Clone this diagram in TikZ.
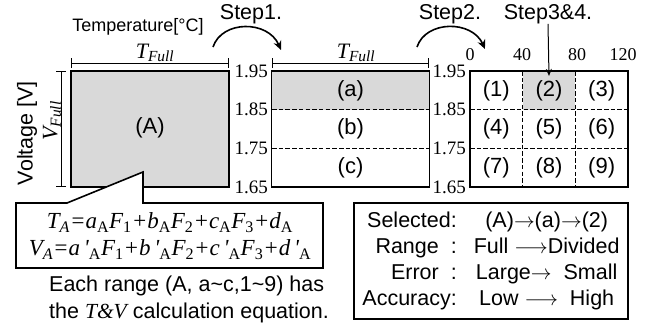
\documentclass[tikz,border=0pt]{standalone}
\usepackage{fontspec}
\setmainfont{Liberation Sans}
\newfontfamily\tnr{Liberation Serif}
\usetikzlibrary{arrows.meta, positioning}

\newcommand{\ital}[1]{{\tnr\itshape #1}}

\begin{document}
\begin{tikzpicture}[x=1pt, y=-1pt,
    rangebox/.style={draw, line width=1.6pt, minimum width=158pt, minimum height=116pt, inner sep=0pt},
    cutline/.style={line width=1.5pt, dash pattern=on 4.5pt off 2.2pt},
    lbl/.style={font=\fontsize{22}{24}\selectfont, inner sep=0pt},
    volt/.style={font=\tnr\fontsize{19}{20}\selectfont, anchor=east, inner sep=0pt},
    temp/.style={font=\tnr\fontsize{18}{20}\selectfont, inner sep=0pt},
    spanbar/.style={line width=0.9pt, {Bar[width=10pt]}-{Bar[width=10pt]}},
    steptext/.style={font=\fontsize{21.5}{24}\selectfont, inner sep=0pt},
    steparrow/.style={-{Stealth[length=9pt,width=8pt]}, line width=1.6pt}
]
\useasboundingbox (0,0) rectangle (662,327);

% Shaded ranges
\fill[gray!30] (272,71) rectangle (429,109.67);
\fill[gray!30] (522.67,71) rectangle (575.33,109.67);

% Full range (A)
\node[rangebox, fill=gray!30] (full) at (150,129) {};
\node[lbl] (labA) at (150,128) {(A)};
\draw[spanbar] (71,63) -- (229,63);
\node[anchor=south, inner sep=0pt] (tfullA) at (155,62) {\ital{\fontsize{22}{24}\selectfont T\textsubscript{Full}}};
\draw[spanbar] (61,71) -- (61,187);
\node[rotate=90, inner sep=0pt] (vfull) at (52,121) {\ital{\fontsize{22}{24}\selectfont V\textsubscript{Full}}};
\node[rotate=90, font=\fontsize{21.5}{24}\selectfont, inner sep=0pt] (vaxis) at (27,133) {Voltage [V]};
\node[font=\fontsize{18}{20}\selectfont, inner sep=0pt] (taxis) at (138,27) {Temperature[°C]};

% Step 1: voltage split
\node[rangebox] (part) at (350.5,129) {};
\draw[cutline] (272,109.67) -- (429,109.67);
\draw[cutline] (272,148.33) -- (429,148.33);
\foreach \t [count=\i] in {a,b,c}
  \node[lbl] (lab\t) at (350.5,71+38.67*\i-19.33) {(\t)};
\draw[spanbar] (272,63) -- (429,63);
\node[anchor=south, inner sep=0pt] (tfullB) at (356,62) {\ital{\fontsize{22}{24}\selectfont T\textsubscript{Full}}};

% Step 2: temperature split
\node[rangebox] (grid) at (549,129) {};
\draw[cutline] (470,109.67) -- (628,109.67);
\draw[cutline] (470,148.33) -- (628,148.33);
\draw[cutline] (522.67,71) -- (522.67,187);
\draw[cutline] (575.33,71) -- (575.33,187);
\foreach \r in {0,1,2}
  \foreach \c in {0,1,2} {
    \pgfmathtruncatemacro{\n}{3*\r+\c+1}
    \node[lbl] (cell\n) at (470+52.67*\c+26.33, 71+38.67*\r+19.33) {(\n)};
  }
\foreach \x/\t in {470/0, 522/40, 577/80, 623/120}
  \node[temp] (temp\t) at (\x,55) {\t};

% Voltage scales
\foreach \v [count=\i] in {1.95,1.85,1.75,1.65} {
  \pgfmathsetmacro{\yy}{71+38.67*(\i-1)}
  \node[volt] (vA\i) at (268,\yy) {\v};
  \node[volt] (vB\i) at (466,\yy) {\v};
}

% Steps
\node[steptext] (stepone) at (251,14) {Step1.};
\node[steptext] (steptwo) at (450,14) {Step2.};
\node[steptext] (stepthree) at (548,14) {Step3\&4.};
\coordinate (s1a) at (213,47);
\coordinate (s1b) at (281,50);
\coordinate (s2a) at (417,47);
\coordinate (s2b) at (485,49);
\draw[steparrow] (s1a) .. controls (222,20) and (268,20) .. (s1b);
\draw[steparrow] (s2a) .. controls (426,20) and (472,20) .. (s2b);
\draw[-{Stealth[length=7pt,width=6pt]}, line width=1pt] (stepthree.south) -- ([yshift=4pt]cell2.north);

% Equation callout
\draw[line width=1.6pt, fill=white] (16,203) -- (67,203) -- (143,172) -- (143,203)
  -- (323,203) -- (323,268) -- (16,268) -- cycle;
\node[font=\tnr\itshape\fontsize{23}{27}\selectfont, align=center, inner sep=0pt] (eqn) at (170,236)
  {T\textsubscript{A}=a\textsubscript{\upshape A}F\textsubscript{\upshape 1}+b\textsubscript{\upshape A}F\textsubscript{\upshape 2}+c\textsubscript{\upshape A}F\textsubscript{\upshape 3}+d\textsubscript{\upshape A}\\
   V\textsubscript{A}=a\,'\textsubscript{\upshape A}F\textsubscript{\upshape 1}+b\,'\textsubscript{\upshape A}F\textsubscript{\upshape 2}+c\,'\textsubscript{\upshape A}F\textsubscript{\upshape 3}+d\,'\textsubscript{\upshape A}};
\node[font=\fontsize{21.5}{27}\selectfont, align=left, anchor=west, inner sep=0pt] (note) at (49,299.5)
  {Each range (A, a\textasciitilde c,1\textasciitilde 9) has\\
   the \ital{T\&V} calculation equation.};

% Summary
\node[draw, line width=1.6pt, minimum width=274pt, minimum height=116pt, inner sep=0pt,
      font=\fontsize{21.5}{26}\selectfont] (summary) at (491,261)
  {\begin{tabular}{@{}r@{\hspace{17pt}}c@{}}
   Selected: & (A)$\rightarrow$(a)$\rightarrow$(2)\\
   Range\hspace{12pt}: & Full $\longrightarrow$Divided\\
   Error\hspace{12pt}: & Large$\rightarrow$\ \ Small\\
   Accuracy: & Low $\longrightarrow$\ \ High
   \end{tabular}};
\end{tikzpicture}
\end{document}
